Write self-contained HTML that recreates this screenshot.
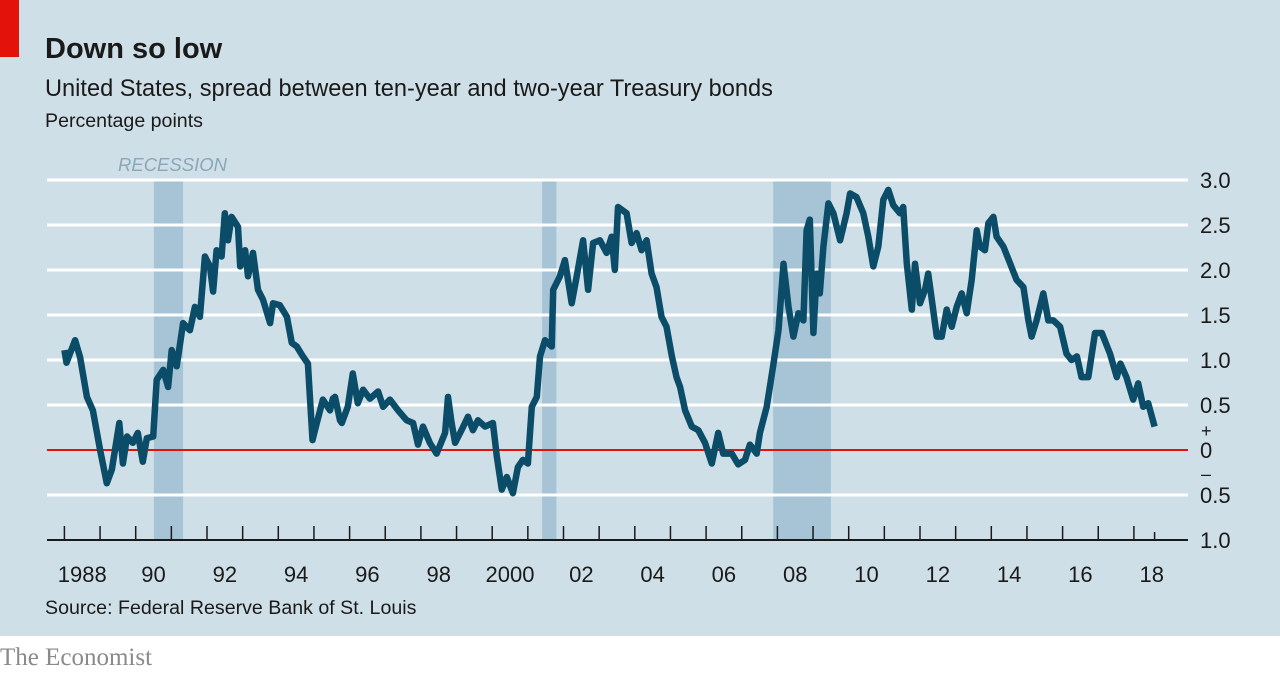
<!DOCTYPE html>
<html><head><meta charset="utf-8">
<style>
html,body{margin:0;padding:0;}
body{width:1280px;height:672px;background:#fff;font-family:"Liberation Sans",sans-serif;overflow:hidden;}
</style></head>
<body>
<svg width="1280" height="672" xmlns="http://www.w3.org/2000/svg" font-family="Liberation Sans, sans-serif">
<rect x="0" y="0" width="1280" height="636" fill="#cfdfe7"/>
<rect x="0" y="0" width="19" height="57" fill="#e3120b"/>
<text x="45" y="58" font-size="29" font-weight="bold" fill="#1a1a1a">Down so low</text>
<text x="45" y="96" font-size="23.6" fill="#1a1a1a">United States, spread between ten-year and two-year Treasury bonds</text>
<text x="45" y="127" font-size="19.6" fill="#1a1a1a">Percentage points</text>
<text x="118" y="171" font-size="18.5" font-style="italic" fill="#8aa7b8">RECESSION</text>
<g id="shades"></g>
<g id="grid"></g>
<g id="axis"></g>
<path id="line" fill="none" stroke="#0b4d68" stroke-width="6.5" stroke-linejoin="round"/>
<text x="45" y="614" font-size="19.6" fill="#1a1a1a">Source: Federal Reserve Bank of St. Louis</text>
<text x="0" y="665" font-size="25" font-family="Liberation Serif, serif" fill="#8a8a8a">The Economist</text>
</svg>
<script>
const recessions=[[1990.51,1991.33],[2001.4,2001.8],[2007.88,2009.5]];
const yTicks=[3,2.5,2,1.5,1,0.5,0,-0.5,-1];
const yTickLabels=["3.0","2.5","2.0","1.5","1.0","0.5","0","0.5","1.0"];
const xLabels=["1988","90","92","94","96","98","2000","02","04","06","08","10","12","14","16","18"];
const dates=[1988.00,1988.06,1988.30,1988.44,1988.63,1988.80,1989.00,1989.19,1989.33,1989.54,1989.64,1989.76,1989.92,1990.06,1990.20,1990.31,1990.49,1990.59,1990.77,1990.91,1991.01,1991.15,1991.33,1991.52,1991.66,1991.80,1991.94,1992.08,1992.17,1992.27,1992.41,1992.50,1992.59,1992.69,1992.87,1992.93,1993.07,1993.15,1993.29,1993.43,1993.57,1993.77,1993.85,1994.04,1994.24,1994.38,1994.52,1994.69,1994.83,1994.96,1995.08,1995.25,1995.45,1995.53,1995.59,1995.73,1995.78,1995.95,1996.09,1996.23,1996.38,1996.57,1996.80,1996.94,1997.13,1997.36,1997.60,1997.78,1997.92,1998.06,1998.25,1998.44,1998.68,1998.76,1998.86,1998.96,1999.14,1999.32,1999.46,1999.60,1999.80,2000.02,2000.13,2000.27,2000.41,2000.58,2000.72,2000.86,2001.00,2001.11,2001.25,2001.34,2001.48,2001.67,2001.71,2001.90,2002.04,2002.23,2002.37,2002.55,2002.69,2002.83,2003.02,2003.21,2003.35,2003.44,2003.53,2003.77,2003.91,2004.05,2004.19,2004.33,2004.47,2004.61,2004.75,2004.89,2005.04,2005.17,2005.27,2005.41,2005.60,2005.78,2005.97,2006.16,2006.34,2006.48,2006.72,2006.90,2007.09,2007.23,2007.42,2007.51,2007.70,2007.88,2008.03,2008.17,2008.31,2008.45,2008.59,2008.73,2008.82,2008.91,2009.01,2009.10,2009.19,2009.29,2009.43,2009.57,2009.76,2009.94,2010.04,2010.22,2010.41,2010.55,2010.69,2010.83,2010.97,2011.11,2011.25,2011.44,2011.53,2011.63,2011.77,2011.86,2012.00,2012.14,2012.23,2012.33,2012.47,2012.61,2012.75,2012.89,2013.03,2013.17,2013.31,2013.45,2013.59,2013.68,2013.82,2013.92,2014.06,2014.15,2014.34,2014.53,2014.71,2014.90,2015.04,2015.13,2015.27,2015.46,2015.60,2015.74,2015.93,2016.11,2016.25,2016.40,2016.53,2016.72,2016.91,2017.10,2017.33,2017.52,2017.62,2017.79,2017.98,2018.12,2018.26,2018.40,2018.58];
const spread=[1.11,0.97,1.22,1.03,0.59,0.44,0.0,-0.37,-0.22,0.30,-0.15,0.15,0.08,0.19,-0.13,0.13,0.15,0.78,0.89,0.70,1.11,0.93,1.41,1.33,1.59,1.48,2.15,2.04,1.76,2.22,2.15,2.63,2.33,2.59,2.48,2.04,2.22,1.93,2.19,1.78,1.67,1.41,1.63,1.61,1.48,1.19,1.15,1.04,0.96,0.11,0.30,0.56,0.44,0.57,0.59,0.33,0.30,0.48,0.85,0.52,0.67,0.57,0.65,0.48,0.56,0.44,0.33,0.30,0.06,0.26,0.08,-0.04,0.19,0.59,0.30,0.08,0.22,0.37,0.22,0.33,0.26,0.30,-0.07,-0.44,-0.30,-0.48,-0.19,-0.11,-0.15,0.48,0.59,1.04,1.22,1.15,1.78,1.93,2.11,1.63,1.93,2.33,1.78,2.30,2.33,2.19,2.37,2.00,2.70,2.63,2.30,2.41,2.22,2.33,1.96,1.81,1.48,1.37,1.04,0.81,0.70,0.44,0.26,0.22,0.08,-0.15,0.19,-0.04,-0.04,-0.16,-0.11,0.06,-0.04,0.19,0.48,0.93,1.33,2.07,1.59,1.26,1.52,1.44,2.44,2.56,1.30,1.96,1.74,2.26,2.74,2.63,2.33,2.63,2.85,2.81,2.63,2.37,2.04,2.26,2.78,2.89,2.72,2.63,2.70,2.07,1.56,2.07,1.63,1.78,1.96,1.67,1.26,1.26,1.56,1.37,1.59,1.74,1.52,1.89,2.44,2.26,2.22,2.52,2.59,2.37,2.26,2.07,1.89,1.81,1.44,1.26,1.44,1.74,1.44,1.44,1.37,1.07,1.00,1.04,0.81,0.81,1.30,1.30,1.07,0.81,0.96,0.81,0.56,0.74,0.48,0.52,0.26];

const NS="http://www.w3.org/2000/svg";
const X0=64.4, PXY=35.65, Y0=450, PXV=90;
function xs(t){return X0+(t-1988)*PXY;}
function ys(v){return Y0-v*PXV;}
function mk(tag,attrs,parent){const e=document.createElementNS(NS,tag);for(const k in attrs)e.setAttribute(k,attrs[k]);document.getElementById(parent).appendChild(e);return e;}

recessions.forEach(r=>{
  const e=mk('rect',{x:xs(r[0]),y:ys(3),width:xs(r[1])-xs(r[0]),height:ys(-1)-ys(3),fill:'#a6c4d5'},'shades');
  
  
});
yTicks.forEach((v,i)=>{
  if(v!==-1){
    const l=mk('line',{x1:47,x2:1188,y1:ys(v),y2:ys(v),stroke:v===0?'#e3120b':'#ffffff','stroke-width':v===0?2:3},'grid');
    
    
  }
  const t=mk('text',{x:1200,y:ys(v)+8,'font-size':22,fill:'#1a1a1a'},'grid');
  
  
  t.textContent=yTickLabels[i];
});
const plus=mk('text',{x:1201,y:ys(0)-13,'font-size':18,fill:'#1a1a1a'},'grid');


plus.textContent='+';
const minus=mk('text',{x:1201,y:ys(0)+30,'font-size':18,fill:'#1a1a1a'},'grid');


minus.textContent='–';
const ax=mk('line',{x1:47,x2:1188,y1:ys(-1),y2:ys(-1),stroke:'#1a1a1a','stroke-width':2},'axis');


for(let yr=1988;yr<=2018;yr++){
  const tk=mk('line',{x1:xs(yr),x2:xs(yr),y1:ys(-1)-14,y2:ys(-1),stroke:'#1a1a1a','stroke-width':1.5},'axis');
  
  
}
const lt=mk('line',{x1:xs(dates[dates.length-1]),x2:xs(dates[dates.length-1]),y1:ys(-1)-8,y2:ys(-1),stroke:'#1a1a1a','stroke-width':1.5},'axis');


xLabels.forEach((s,i)=>{
  const t=mk('text',{x:xs(1988+2*i+0.5),y:582,'font-size':22,fill:'#1a1a1a','text-anchor':'middle'},'axis');
  
  
  t.textContent=s;
});
let d='';
dates.forEach((t,i)=>{d+=(i?'L':'M')+xs(t).toFixed(1)+','+ys(spread[i]).toFixed(1);});
document.getElementById('line').setAttribute('d',d);
</script>
</body></html>
